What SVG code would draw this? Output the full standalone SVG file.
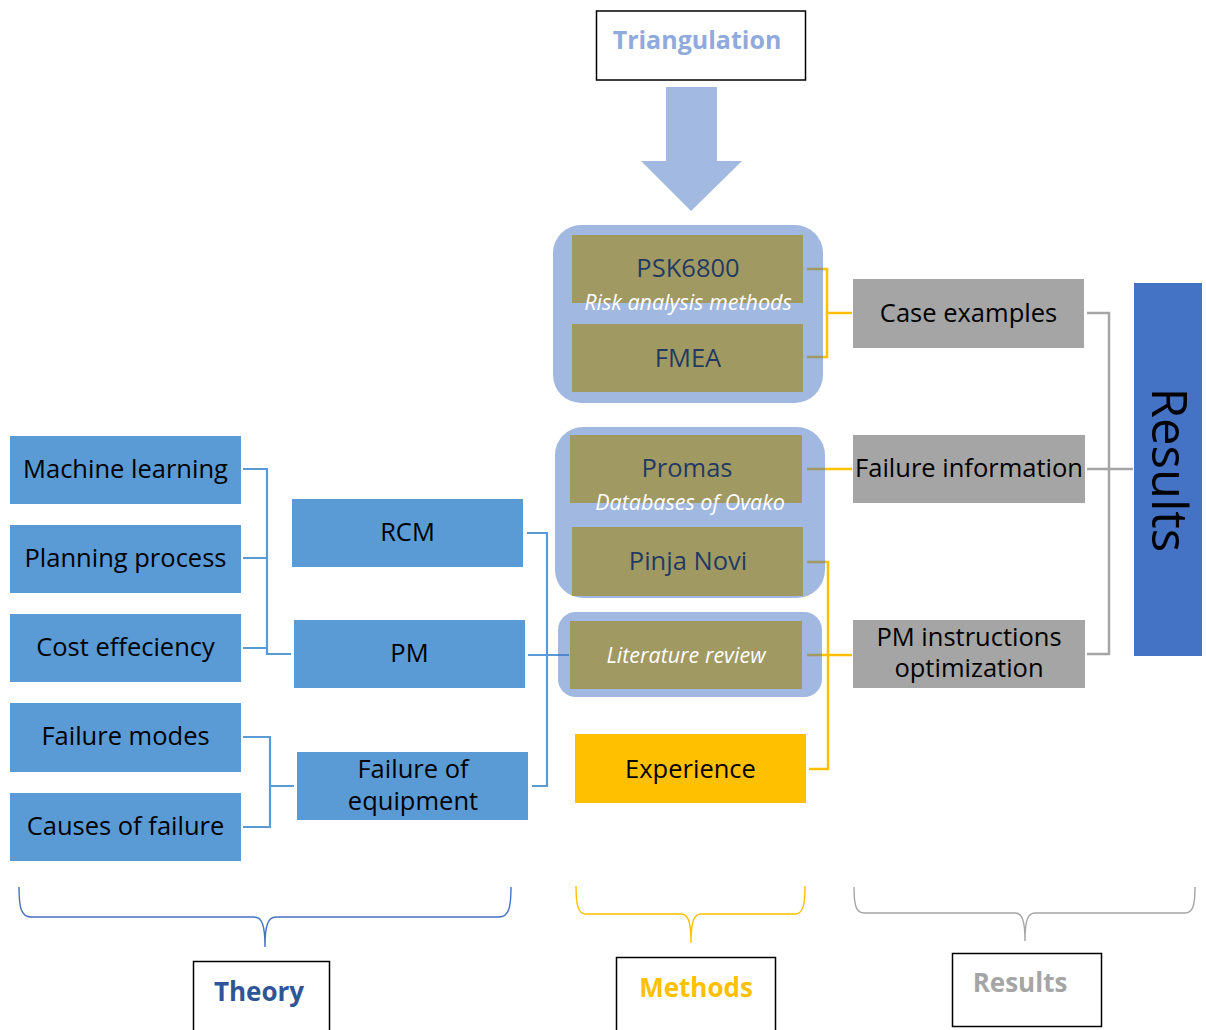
<svg xmlns="http://www.w3.org/2000/svg" width="1206" height="1030" viewBox="0 0 1206 1030">
  <style>
    text { font-family: "Open Sans", "Liberation Sans", sans-serif; text-anchor: middle; }
    .lbl { font-size: 25.5px; fill: #000; }
    .theory { fill: #5B9BD5; }
    .method { fill: #FFC000; }
    .result { fill: #A5A5A5; }
    .note { font-size: 21.5px; font-style: italic; fill: #fff; }
    .group { fill: #4472C4; fill-opacity: 0.5; }
    .c-blue { fill: none; stroke: #5B9BD5; stroke-width: 2.2; }
    .c-yel { fill: none; stroke: #FFC000; stroke-width: 2.5; }
    .c-gry { fill: none; stroke: #A5A5A5; stroke-width: 2.5; }
    .frame { fill: #fff; stroke: #000; stroke-width: 1.5; }
    .cat { font-size: 26px; font-weight: bold; }
  </style>

  <!-- Triangulation header and arrow -->
  <g id="triangulation">
    <rect class="frame" x="596.5" y="11" width="209" height="69" stroke-width="1.8"/>
    <text x="697" y="49" style="font-size:25px;font-weight:bold;fill:#8FAADC">Triangulation</text>
  </g>
  <g id="triangulation-arrow">
    <polygon points="666,87 717,87 717,161 742,161 691,211 641,161 666,161" fill="#A2B9E1"/>
  </g>

  <!-- Theory nodes -->
  <g id="machine-learning"><rect class="theory" x="10" y="436" width="231" height="68"/><text class="lbl" x="125.5" y="478">Machine learning</text></g>
  <g id="planning-process"><rect class="theory" x="10" y="525" width="231" height="68"/><text class="lbl" x="125.5" y="567">Planning process</text></g>
  <g id="cost-effeciency"><rect class="theory" x="10" y="614" width="231" height="68"/><text class="lbl" x="125.5" y="656">Cost effeciency</text></g>
  <g id="failure-modes"><rect class="theory" x="10" y="703" width="231" height="69"/><text class="lbl" x="125.5" y="745">Failure modes</text></g>
  <g id="causes-of-failure"><rect class="theory" x="10" y="793" width="231" height="68"/><text class="lbl" x="125.5" y="835">Causes of failure</text></g>
  <g id="rcm"><rect class="theory" x="292" y="499" width="231" height="68"/><text class="lbl" x="407.5" y="541">RCM</text></g>
  <g id="pm"><rect class="theory" x="294" y="620" width="231" height="68"/><text class="lbl" x="409.5" y="662">PM</text></g>
  <g id="failure-of-equipment"><rect class="theory" x="297" y="752" width="231" height="68"/><text class="lbl" x="413" y="778">Failure of</text><text class="lbl" x="413" y="810">equipment</text></g>

  <!-- Method nodes (shaded by their data-source panels) -->
  <g id="psk6800"><rect class="method" x="572" y="235" width="231" height="68"/><text class="lbl" x="688" y="277">PSK6800</text></g>
  <g id="fmea"><rect class="method" x="572" y="324" width="231" height="68"/><text class="lbl" x="688" y="367">FMEA</text></g>
  <g id="promas"><rect class="method" x="570" y="435" width="232" height="68"/><text class="lbl" x="687" y="477">Promas</text></g>
  <g id="pinja-novi"><rect class="method" x="572" y="527" width="231" height="69"/><text class="lbl" x="688" y="570">Pinja Novi</text></g>
  <g id="literature-review"><rect class="method" x="570" y="621" width="232" height="68"/></g>
  <g id="experience"><rect class="method" x="575" y="734" width="231" height="69"/><text class="lbl" x="690.5" y="778">Experience</text></g>

  <!-- Connectors -->
  <g id="connectors">
    <path class="c-blue" d="M243,469 H267 V654 H291 M243,558 H267 M243,648 H267"/>
    <path class="c-blue" d="M243,737 H270 V827 H243 M270,786 H294"/>
    <path class="c-blue" d="M527,533 H547 V786 H532 M528,655 H569"/>
    <path class="c-yel" d="M807,269 H827 V357 H807 M827,313 H852"/>
    <path class="c-yel" d="M807,469 H852"/>
    <path class="c-yel" d="M807,562 H828 V769 H809 M807,655 H852"/>
    <path class="c-gry" d="M1087,313 H1109 V654 H1087 M1087,469 H1133"/>
  </g>

  <!-- Data-source panels -->
  <g id="risk-analysis-methods">
    <rect class="group" x="553" y="225" width="270" height="178" rx="28"/>
    <text class="note" x="688" y="310">Risk analysis methods</text>
  </g>
  <g id="databases-of-ovako">
    <rect class="group" x="555" y="427" width="270" height="171" rx="28"/>
    <text class="note" x="690" y="510">Databases of Ovako</text>
  </g>
  <g id="literature-panel">
    <rect class="group" x="558" y="612" width="264" height="85" rx="18"/>
    <text class="note" x="686" y="663">Literature review</text>
  </g>

  <!-- Result nodes -->
  <g id="case-examples"><rect class="result" x="853" y="279" width="231" height="69"/><text class="lbl" x="968.5" y="322">Case examples</text></g>
  <g id="failure-information"><rect class="result" x="853" y="435" width="232" height="68"/><text class="lbl" x="969" y="477">Failure information</text></g>
  <g id="pm-instructions"><rect class="result" x="853" y="620" width="232" height="68"/><text class="lbl" x="969" y="646">PM instructions</text><text class="lbl" x="969" y="677">optimization</text></g>
  <g id="results-bar">
    <rect x="1134" y="283" width="68" height="373" fill="#4472C4"/>
    <text x="1152" y="470" transform="rotate(90 1152 470)" style="font-size:49px;fill:#000">Results</text>
  </g>

  <!-- Category braces and labels -->
  <g id="theory-brace">
    <path d="M19,887 C19,907 21,917 31,917 H254 C262,917 265,925 265,947 C265,925 268,917 276,917 H499 C509,917 511,907 511,887" fill="none" stroke="#4472C4" stroke-width="1.4"/>
  </g>
  <g id="methods-brace">
    <path d="M576,886 C576,905 578,914 586,914 H681 C688,914 691,921 691,943 C691,921 694,914 701,914 H795 C803,914 805,905 805,886" fill="none" stroke="#FFC000" stroke-width="1.4"/>
  </g>
  <g id="results-brace">
    <path d="M854,887 C854,905 856,913 864,913 H1015 C1022,913 1025,920 1025,941 C1025,920 1028,913 1035,913 H1185 C1193,913 1195,905 1195,887" fill="none" stroke="#A5A5A5" stroke-width="1.4"/>
  </g>
  <g id="theory-label">
    <path d="M193.5,1031 V961.5 H329.5 V1031" fill="#fff" stroke="#000" stroke-width="1.5"/>
    <text class="cat" x="259" y="1001" fill="#2F5597">Theory</text>
  </g>
  <g id="methods-label">
    <path d="M616.5,1031 V957.5 H775.5 V1031" fill="#fff" stroke="#000" stroke-width="1.5"/>
    <text class="cat" x="696" y="997" fill="#FFC000">Methods</text>
  </g>
  <g id="results-label">
    <rect class="frame" x="952.5" y="953.5" width="149" height="73"/>
    <text class="cat" x="1020" y="992" fill="#A5A5A5">Results</text>
  </g>
</svg>
